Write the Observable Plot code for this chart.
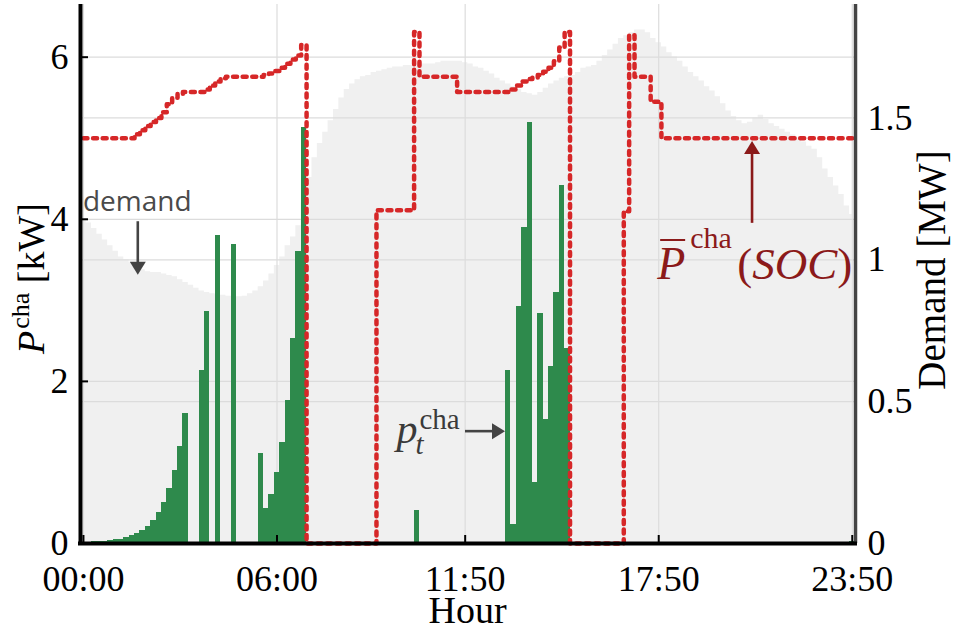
<!DOCTYPE html>
<html><head><meta charset="utf-8">
<script src="https://cdn.jsdelivr.net/npm/d3@7"></script>
<script src="https://cdn.jsdelivr.net/npm/@observablehq/plot@0.6"></script>
<style>
body{margin:0;background:#fff;}
#chart svg{display:block;}
</style></head><body><div id="chart"></div>
<script>
// ---- data (10-minute steps, index 0 = 00:00 ... 143 = 23:50) ----
const hourTicks = [0, 36, 71, 107, 143];
const hourLabels = ["00:00", "06:00", "11:50", "17:50", "23:50"];
const kwTicks = [0, 2, 4, 6];
const mwTicks = [0, 0.5, 1, 1.5];

const demandMW = [
 1.145,1.13,1.11,1.09,1.07,1.05,1.03,1.01,1.00,0.99,0.98,0.965,
 0.958,0.955,0.955,0.95,0.945,0.94,0.93,0.92,0.91,0.90,0.89,0.885,
 0.88,0.877,0.875,0.872,0.87,0.87,0.872,0.88,0.89,0.905,0.925,0.95,
 0.98,1.01,1.05,1.08,1.12,1.20,1.29,1.36,1.41,1.45,1.49,1.53,
 1.57,1.60,1.62,1.635,1.645,1.65,1.66,1.665,1.67,1.675,1.68,1.68,
 1.685,1.685,1.69,1.69,1.69,1.69,1.695,1.70,1.70,1.70,1.70,1.695,
 1.69,1.68,1.675,1.665,1.655,1.64,1.63,1.62,1.61,1.60,1.59,1.585,
 1.58,1.59,1.605,1.62,1.63,1.64,1.645,1.65,1.66,1.675,1.68,1.685,
 1.70,1.72,1.74,1.76,1.78,1.79,1.80,1.81,1.81,1.80,1.78,1.765,
 1.75,1.73,1.715,1.70,1.68,1.66,1.645,1.63,1.61,1.595,1.575,1.55,
 1.525,1.505,1.49,1.48,1.485,1.50,1.51,1.495,1.48,1.47,1.46,1.45,
 1.44,1.43,1.415,1.40,1.39,1.36,1.32,1.29,1.26,1.23,1.19,1.16
];

const pcha = [
 0.01,0.015,0.02,0.022,0.03,0.037,0.045,0.055,0.07,0.095,0.12,0.16,
 0.21,0.28,0.38,0.51,0.68,0.90,1.20,1.61,0,0,2.14,2.86,
 0,3.80,0,0,3.69,0,0,0,0,1.11,0.43,0.61,
 0.87,1.24,1.77,2.53,3.60,5.13,0,0,0,0,0,0,
 0,0,0,0,0,0,0,0,0,0,0,0,
 0,0,0.41,0,0,0,0,0,0,0,0,0,
 0,0,0,0,0,0,0,2.14,0.23,2.93,3.90,5.20,
 0.75,2.84,1.53,2.18,3.10,4.42,2.40,0,0,0,0,0,
 0,0,0,0,0,0,0,0,0,0,0,0,
 0,0,0,0,0,0,0,0,0,0,0,0,
 0,0,0,0,0,0,0,0,0,0,0,0,
 0,0,0,0,0,0,0,0,0,0,0,0.03
];

const pchaMax = [
 5,5,5,5,5,5,5,5,5,5,5.05,5.1,
 5.15,5.2,5.25,5.32,5.42,5.5,5.55,5.57,5.57,5.57,5.57,5.6,
 5.65,5.7,5.74,5.76,5.76,5.76,5.76,5.76,5.76,5.76,5.78,5.8,
 5.83,5.87,5.92,5.97,6.02,6.15,0,0,0,0,0,0,
 0,0,0,0,0,0,0,4.11,4.11,4.11,4.11,4.11,
 4.11,4.11,6.31,5.76,5.76,5.76,5.76,5.76,5.76,5.76,5.57,5.57,
 5.57,5.57,5.57,5.57,5.57,5.57,5.57,5.57,5.6,5.65,5.7,5.73,
 5.75,5.78,5.82,5.87,5.95,6.12,6.31,0,0,0,0,0,
 0,0,0,0,0,4.1,6.27,5.76,5.76,5.76,5.45,5.45,
 5,5,5,5,5,5,5,5,5,5,5,5,
 5,5,5,5,5,5,5,5,5,5,5,5,
 5,5,5,5,5,5,5,5,5,5,5,5
];

// annotation anchors in data units (x: step index, y: kW)
const annDemand = {x: 0, y: 4.10, ax: 10.2, ay1: 3.97, ay2: 3.31};
const annP = {x: 58.3, y: 1.234, ax1: 71.06, ax2: 78.5, ay: 1.38};
const annSoc = {x: 106.8, y: 3.257, ax: 124.45, ay1: 3.95, ay2: 4.96};

// ---- layout ----
const W = 957, H = 630;
const mL = 80, mR = 102, mT = 4, mB = 87;
const xDom = [-0.55, 143.6];
const yDom = [0, 6.65];
const K = 3.5; // 1 MW on right axis = 3.5 kW on left axis
const pxX = (xDom[1] - xDom[0]) / (W - mL - mR);
const pxY = (yDom[1] - yDom[0]) / (H - mT - mB);

const demandData = demandMW.map((v, i) => ({i, v: v * K}));
const barData = pcha.map((v, i) => ({i, v})).filter(d => d.v > 0);
const maxData = pchaMax.map((v, i) => ({i, v}));

const grid = "#dcdcdc";
const plot = Plot.plot({
  width: W, height: H,
  marginLeft: mL, marginRight: mR, marginTop: mT, marginBottom: mB,
  x: {domain: xDom},
  y: {domain: yDom},
  style: {fontFamily: "'Liberation Serif', serif", fontSize: "36px", color: "black", background: "white"},
  marks: [
    Plot.areaY(demandData, {x: "i", y: "v", curve: "step", fill: "#f0f0f0"}),
    Plot.ruleY(kwTicks.filter(v => v > 0), {stroke: grid, strokeWidth: 1.2}),
    Plot.ruleY(mwTicks.filter(v => v > 0).map(v => v * K), {stroke: grid, strokeWidth: 1.2}),
    Plot.ruleX(hourTicks, {stroke: grid, strokeWidth: 1.2}),
    Plot.rect(barData, {x1: d => d.i - 0.5, x2: d => d.i + 0.5, y1: 0, y2: "v",
      fill: "#2e8a4c", shapeRendering: "crispEdges"}),
    Plot.line(maxData, {x: "i", y: "v", curve: "step", stroke: "#d62728",
      strokeWidth: 4.5, strokeDasharray: "4,5.6"}),
    // inward tick marks
    Plot.ruleX(hourTicks, {y1: 0, y2: 8 * pxY, stroke: "black", strokeWidth: 2}),
    Plot.ruleY(kwTicks, {x1: xDom[0], x2: xDom[0] + 8 * pxX, stroke: "black", strokeWidth: 2}),
    // axis lines
    Plot.ruleX([xDom[1]], {stroke: "#444", strokeWidth: 3.5}),
    Plot.ruleX([xDom[0]], {stroke: "black", strokeWidth: 4}),
    Plot.ruleY([0], {stroke: "black", strokeWidth: 4, strokeLinecap: "square"}),
    // axes labels
    Plot.axisX({ticks: hourTicks, tickFormat: d => hourLabels[hourTicks.indexOf(d)],
      tickSize: 0, tickPadding: 22, label: null}),
    Plot.axisY({anchor: "left", ticks: kwTicks, tickFormat: d => String(d),
      tickSize: 0, tickPadding: 12, label: null}),
    Plot.axisY({anchor: "right", ticks: mwTicks.map(v => v * K),
      tickFormat: d => String(+(d / K).toFixed(2)), tickSize: 0, tickPadding: 12, label: null})
  ]
});
document.getElementById("chart").appendChild(plot);

// ---- titles and annotations ----
const svg = d3.select(plot);
const sx = plot.scale("x").apply, sy = plot.scale("y").apply;
const serif = "'Liberation Serif', serif";

function txt(x, y, size, color, family) {
  return svg.append("text").attr("x", x).attr("y", y).attr("text-anchor", "start")
    .attr("font-family", family || serif).attr("font-size", size).attr("fill", color);
}
function arrow(x1, y1, x2, y2, color) {
  const dx = x2 - x1, dy = y2 - y1, L = Math.hypot(dx, dy), ux = dx / L, uy = dy / L;
  const hl = 13, hw = 8;
  const bx = x2 - ux * hl, by = y2 - uy * hl;
  svg.append("line").attr("x1", x1).attr("y1", y1).attr("x2", bx + ux).attr("y2", by + uy)
    .attr("stroke", color).attr("stroke-width", 2.6);
  svg.append("path")
    .attr("d", `M${x2},${y2}L${bx - uy * hw},${by + ux * hw}L${bx + uy * hw},${by - ux * hw}Z`)
    .attr("fill", color);
}

// x title
svg.append("text").attr("x", (mL + W - mR) / 2).attr("y", 623).attr("text-anchor", "middle")
  .attr("font-family", serif).attr("font-size", 38).attr("fill", "black").text("Hour");

// left y title: P^cha [kW]
{
  const t = svg.append("text").attr("transform", "translate(44,354) rotate(-90)").attr("text-anchor", "start")
    .attr("font-family", serif).attr("font-size", 38).attr("fill", "black");
  t.append("tspan").attr("font-style", "italic").text("P");
  t.append("tspan").attr("font-size", 26).attr("dy", -15).attr("dx", 2).text("cha");
  t.append("tspan").attr("dy", 15).text(" [kW]");
}
// right y title
svg.append("text").attr("transform", "translate(945,270) rotate(-90)").attr("text-anchor", "middle")
  .attr("font-family", serif).attr("font-size", 39).attr("fill", "black").text("Demand [MW]");

// "demand" annotation
txt(sx(annDemand.x), sy(annDemand.y), 28, "#4a4a4a", "'Open Sans', sans-serif").text("demand");
arrow(sx(annDemand.ax), sy(annDemand.ay1), sx(annDemand.ax), sy(annDemand.ay2), "#444");

// p_t^cha annotation
{
  const x0 = sx(annP.x), y0 = sy(annP.y), c = "#3a3a3a";
  txt(x0, y0, 42, c).attr("font-style", "italic").text("p");
  txt(x0 + 19, y0 + 11, 29, c).attr("font-style", "italic").text("t");
  txt(x0 + 23, y0 - 14, 29, c).text("cha");
  arrow(sx(annP.ax1), sy(annP.ay), sx(annP.ax2), sy(annP.ay), "#444");
}

// P̄^cha(SOC) annotation
{
  const red = "#8b1a1a";
  const x0 = sx(annSoc.x), y0 = sy(annSoc.y);
  txt(x0, y0, 46, red).attr("font-style", "italic").text("P");
  svg.append("line").attr("x1", x0 + 3).attr("x2", x0 + 28).attr("y1", y0 - 39).attr("y2", y0 - 39)
    .attr("stroke", red).attr("stroke-width", 2);
  txt(x0 + 33, y0 - 31, 30, red).text("cha");
  const t = txt(x0 + 80, y0, 45, red);
  t.append("tspan").text("(");
  t.append("tspan").attr("font-style", "italic").text("SOC");
  t.append("tspan").text(")");
  arrow(sx(annSoc.ax), sy(annSoc.ay1), sx(annSoc.ax), sy(annSoc.ay2), red);
}
</script>
</body></html>
